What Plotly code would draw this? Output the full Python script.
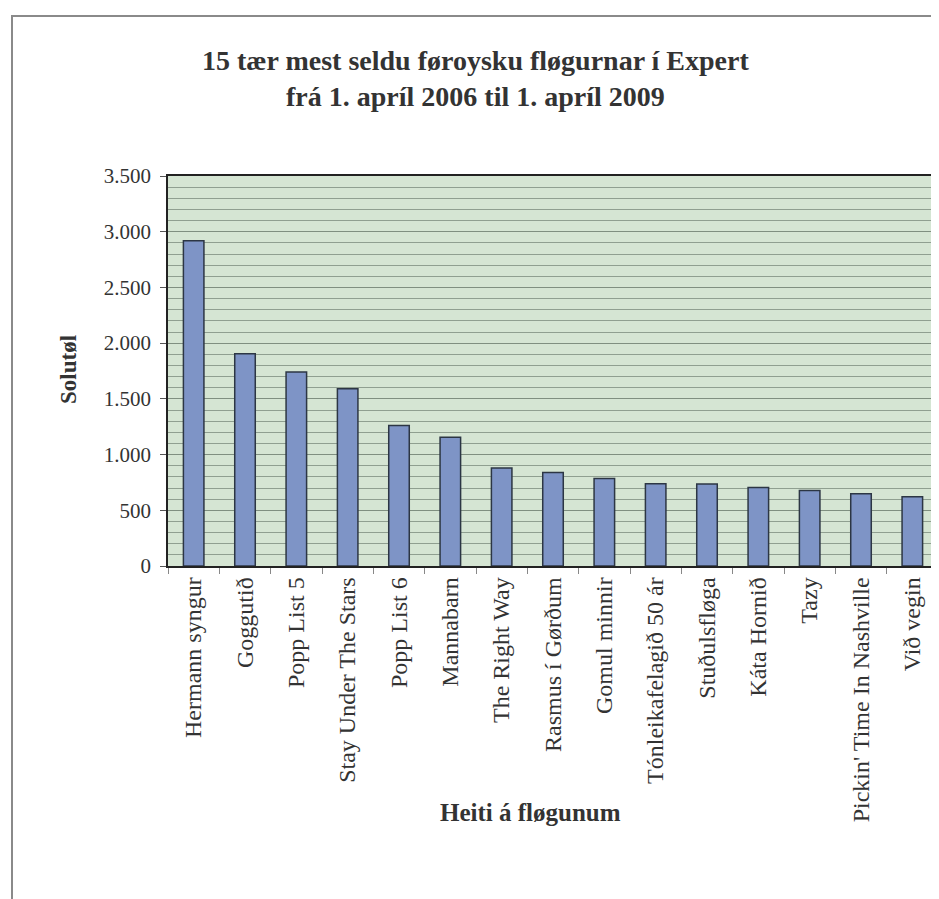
import plotly.graph_objects as go

categories = ["Hermann syngur", "Goggutið", "Popp List 5", "Stay Under The Stars",
              "Popp List 6", "Mannabarn", "The Right Way", "Rasmus í Gørðum",
              "Gomul minnir", "Tónleikafelagið 50 ár", "Stuðulsfløga", "Káta Hornið",
              "Tazy", "Pickin' Time In Nashville", "Við vegin"]
sales = [2920, 1905, 1740, 1590, 1260, 1155, 880, 840, 785, 738, 735, 705, 678, 648, 622]
y_ticks = [0, 500, 1000, 1500, 2000, 2500, 3000, 3500]

W, H = 939, 899
OFF = 8  # page body margin
L, R, T, B = 168 - OFF, 938 - OFF, 176 - OFF, 566 - OFF

def px(x):
    return (x - OFF - L) / (R - L)

def py(y):
    return (B - (y - OFF)) / (B - T)

serif = "Liberation Serif, Times New Roman, serif"
txt = "#333333"

fig = go.Figure(go.Bar(
    x=categories, y=sales,
    marker=dict(color="#7e94c6", line=dict(color="#2c3644", width=1.5)),
))

fig.update_layout(
    width=W, height=H,
    margin=dict(l=L, r=W - R, t=T, b=H - B, autoexpand=False),
    paper_bgcolor="white",
    plot_bgcolor="#d5e5d3",
    bargap=0.6,
    showlegend=False,
    separators=",.",
    font=dict(family=serif, color=txt),
    xaxis=dict(
        tickangle=-90, tickfont=dict(size=24, family=serif, color=txt),
        ticks="outside", tickson="boundaries", ticklen=6, tickcolor="#888888",
        showline=True, linecolor="#222222", linewidth=1.5, mirror=True,
        showgrid=False,
    ),
    yaxis=dict(
        range=[0, 3500], tickvals=y_ticks, tickformat=",d",
        tickfont=dict(size=21, family=serif, color=txt),
        ticks="outside", ticklen=6, tickcolor="#555555", ticklabelstandoff=5,
        showline=True, linecolor="#222222", linewidth=1.5, mirror=True,
        showgrid=True, gridcolor="#7f8f80", gridwidth=1,
        minor=dict(dtick=100, showgrid=True, gridcolor="#8f9f90", gridwidth=0.8),
        zeroline=False,
    ),
    annotations=[
        dict(text="<b>15 tær mest seldu føroysku fløgurnar í Expert<br>frá 1. apríl 2006 til 1. apríl 2009</b>",
             x=px(475), y=py(78), xref="paper", yref="paper", xanchor="center", yanchor="middle",
             showarrow=False, font=dict(size=28, family=serif, color=txt)),
        dict(text="<b>Solutøl</b>", x=px(68), y=py(370), xref="paper", yref="paper",
             xanchor="center", yanchor="middle",
             showarrow=False, textangle=-90, font=dict(size=23, family=serif, color=txt)),
        dict(text="<b>Heiti á fløgunum</b>", x=px(530), y=py(812), xref="paper", yref="paper",
             xanchor="center", yanchor="middle",
             showarrow=False, font=dict(size=25, family=serif, color=txt)),
    ],
    shapes=[
        dict(type="rect", xref="paper", yref="paper",
             x0=px(12), x1=px(960), y0=py(920), y1=py(16),
             line=dict(color="#8a8a8a", width=2), fillcolor="rgba(0,0,0,0)", layer="below"),
    ],
)

fig.write_html("out.html")
